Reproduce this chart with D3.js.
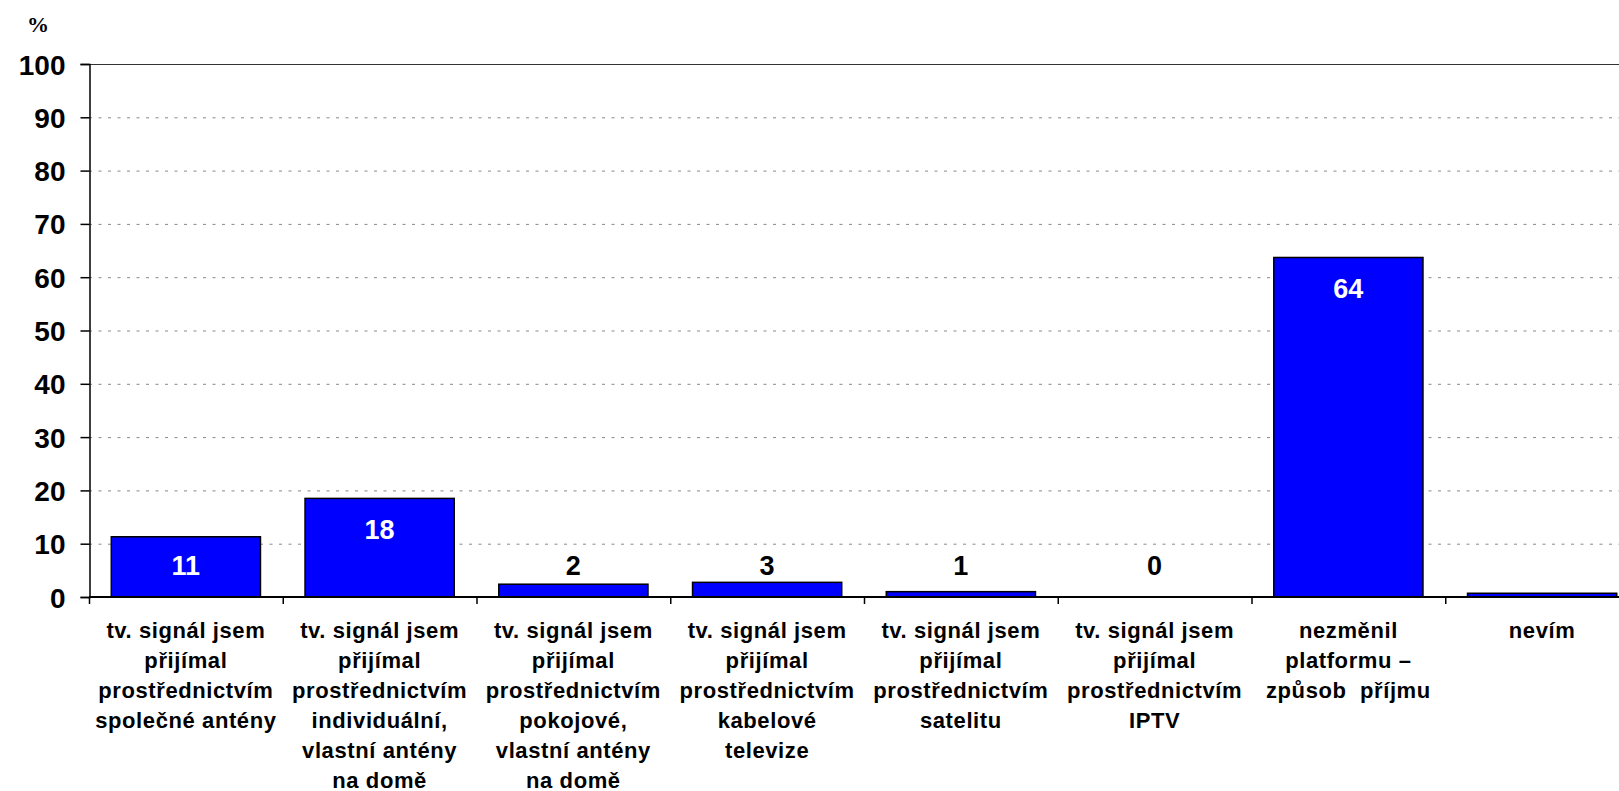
<!DOCTYPE html>
<html>
<head>
<meta charset="utf-8">
<script src="https://cdn.jsdelivr.net/npm/d3@7"></script>
<style>
body { margin: 0; background: #fff; overflow: hidden; }
svg { display: block; font-family: "Liberation Sans", Arial, sans-serif; font-weight: bold; }
</style>
</head>
<body>
<div id="chart-area"></div>
<script>
var categories = [
    ["tv. signál jsem", "přijímal", "prostřednictvím", "společné antény"],
    ["tv. signál jsem", "přijímal", "prostřednictvím", "individuální,", "vlastní antény", "na domě"],
    ["tv. signál jsem", "přijímal", "prostřednictvím", "pokojové,", "vlastní antény", "na domě"],
    ["tv. signál jsem", "přijímal", "prostřednictvím", "kabelové", "televize"],
    ["tv. signál jsem", "přijímal", "prostřednictvím", "satelitu"],
    ["tv. signál jsem", "přijímal", "prostřednictvím", "IPTV"],
    ["nezměnil", "platformu –", "způsob  příjmu"],
    ["nevím"]
];
var values = [11.3, 18.5, 2.4, 2.75, 1.0, 0, 63.7, 0.7];
var valueLabels = ["11", "18", "2", "3", "1", "0", "64", ""];
var yTicks = [0, 10, 20, 30, 40, 50, 60, 70, 80, 90, 100];

var width = 1619, height = 791;
var plotLeft = 89, plotTop = 64, plotBottom = 597, plotRight = 1639;

var svg = d3.select("#chart-area").append("svg")
    .attr("width", width)
    .attr("height", height);

var idx = categories.map((d, i) => i);

var x = d3.scaleBand()
    .domain(idx)
    .range([plotLeft, plotRight])
    .paddingInner(0.23)
    .paddingOuter(0.115);

var y = d3.scaleLinear()
    .domain([0, 100])
    .range([plotBottom, plotTop]);

// gridlines
svg.append("g").selectAll("line")
    .data(yTicks.filter(d => d > 0))
    .enter().append("line")
    .attr("x1", plotLeft).attr("x2", width)
    .attr("y1", d => y(d) + 0.5).attr("y2", d => y(d) + 0.5)
    .attr("stroke", d => d === 100 ? "#333" : "#888")
    .attr("stroke-width", 1)
    .attr("stroke-dasharray", d => d === 100 ? null : "3,6.5");

// left axis
var leftAxis = d3.axisLeft(y)
    .tickValues(yTicks)
    .tickSize(9)
    .tickPadding(15);
var ga = svg.append("g")
    .attr("transform", "translate(" + (plotLeft + 0.5) + ",0)")
    .call(leftAxis);
ga.select(".domain").attr("stroke", "#000").attr("stroke-width", 1.5);
ga.selectAll(".tick line").attr("stroke", "#000").attr("stroke-width", 1.5);
ga.selectAll("text")
    .attr("font-size", "28px")
    .attr("font-family", "Liberation Sans, Arial, sans-serif")
    .attr("font-weight", "bold")
    .attr("fill", "#000")
    .attr("dy", "0.36em");

// bars
svg.append("g").selectAll("rect")
    .data(values)
    .enter().append("rect")
    .attr("x", (d, i) => x(i))
    .attr("y", d => y(d))
    .attr("width", x.bandwidth())
    .attr("height", d => y(0) - y(d))
    .attr("fill", "#0000ff")
    .attr("stroke", d => d > 0 ? "#000" : "none")
    .attr("stroke-width", 1.5);

// x axis line + category ticks
svg.append("line")
    .attr("x1", plotLeft).attr("x2", width)
    .attr("y1", plotBottom).attr("y2", plotBottom)
    .attr("stroke", "#000").attr("stroke-width", 2);

var step = x.step();
svg.append("g").selectAll("line")
    .data(idx)
    .enter().append("line")
    .attr("x1", (d, i) => x(i) + x.bandwidth() / 2 - step / 2 + 0.5)
    .attr("x2", (d, i) => x(i) + x.bandwidth() / 2 - step / 2 + 0.5)
    .attr("y1", plotBottom).attr("y2", plotBottom + 7)
    .attr("stroke", "#000").attr("stroke-width", 1.5);

// value labels (inside the bar when tall enough)
svg.append("g").selectAll("text")
    .data(values)
    .enter().append("text")
    .attr("x", (d, i) => x(i) + x.bandwidth() / 2)
    .attr("y", d => Math.min(y(d) + 31, y(0) - 32))
    .attr("dy", "0.36em")
    .attr("text-anchor", "middle")
    .attr("font-size", "27px")
    .attr("fill", d => d >= 10 ? "#fff" : "#000")
    .text((d, i) => valueLabels[i]);

// category labels
var cat = svg.append("g").selectAll("text")
    .data(categories)
    .enter().append("text")
    .attr("text-anchor", "middle")
    .attr("font-size", "22px")
    .attr("fill", "#000")
    .attr("letter-spacing", "0.6px");
cat.selectAll("tspan")
    .data((d, i) => d.map(t => ({t: t, i: i})))
    .enter().append("tspan")
    .attr("x", d => x(d.i) + x.bandwidth() / 2)
    .attr("y", (d, j) => 630 + j * 30)
    .attr("dy", "0.36em")
    .style("white-space", "pre")
    .text(d => d.t);

// unit label
svg.append("text")
    .attr("x", 38)
    .attr("y", 32)
    .attr("text-anchor", "middle")
    .attr("font-family", "Liberation Serif, serif")
    .attr("font-size", "22px")
    .attr("font-weight", "bold")
    .text("%");
</script>
</body>
</html>
